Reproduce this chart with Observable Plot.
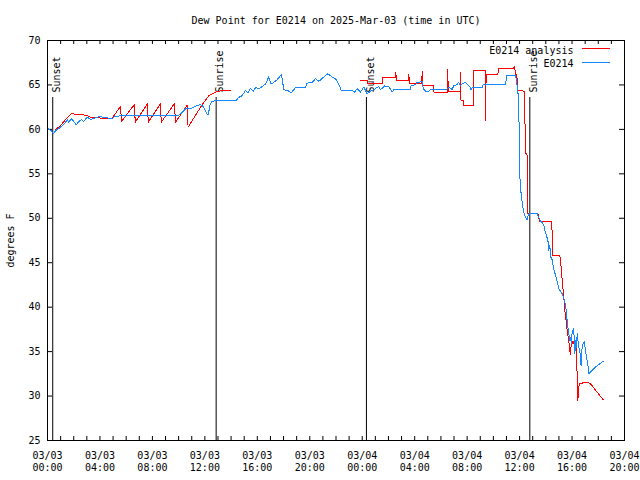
<!DOCTYPE html>
<html><head><meta charset="utf-8">
<script src="https://cdn.jsdelivr.net/npm/d3@7"></script>
<script src="https://cdn.jsdelivr.net/npm/@observablehq/plot@0.6"></script>
<style>body{margin:0;background:#fff} svg{display:block}</style>
</head><body><div id="chart"></div>
<script>
// ---- data (hours after 2025-03-03 00:00 UTC, degrees F) ----
const titleText = "Dew Point for E0214 on 2025-Mar-03 (time in UTC)";
const yLabel = "degrees F";
const seriesNames = ["E0214 analysis", "E0214"];

const blueHours = [0.00,0.25,0.45,0.65,0.86,1.12,1.37,1.50,1.62,1.83,2.00,2.19,2.39,2.59,2.77,3.03,3.28,3.66,4.04,4.29,4.55,4.93,5.19,9.99,10.27,10.52,10.77,11.03,11.42,11.67,11.92,12.12,12.25,12.39,12.51,12.68,14.34,14.59,14.85,15.10,15.28,15.48,15.69,15.86,16.11,16.37,16.62,16.87,17.06,17.26,17.52,17.84,18.02,18.32,18.58,18.91,19.67,19.80,20.18,20.44,20.69,21.07,21.37,21.71,21.96,22.21,22.40,23.23,23.41,23.62,23.87,24.12,24.38,24.63,24.88,25.14,25.26,25.39,25.70,26.03,26.28,26.41,27.68,27.72,28.06,28.19,28.57,28.65,28.82,29.08,29.21,30.43,30.60,30.86,30.98,31.19,31.36,31.49,31.62,31.87,32.25,32.30,32.38,33.15,33.22,34.92,35.04,35.69,35.76,35.94,35.99,36.07,36.14,36.24,36.32,36.45,36.56,36.62,36.75,37.34,37.39,37.59,37.72,37.85,37.97,38.10,38.16,38.23,38.30,38.41,38.48,38.56,38.66,38.74,38.87,38.99,39.12,39.25,39.33,39.43,39.53,39.58,39.68,39.75,39.83,39.88,39.96,40.01,40.09,40.13,40.21,40.28,40.34,40.39,40.51,40.59,40.69,40.77,40.85,40.95,41.02,41.10,41.20,41.28,41.66,42.04,42.37];
const blueValues = [60.1,59.9,59.5,59.9,60.1,60.4,60.8,61.1,60.8,61.2,60.9,60.5,60.9,61.1,60.9,61.4,61.1,61.3,61.5,61.3,61.3,61.2,61.5,61.6,61.9,62.3,62.3,62.4,62.7,62.8,62.5,61.8,61.6,62.7,63.1,63.2,63.2,63.6,63.8,64.4,64.1,64.6,64.3,64.7,64.6,64.8,65.1,65.9,65.1,65.3,65.6,66.2,64.45,64.4,64.1,64.7,64.7,65.2,65.3,65.7,65.4,65.9,66.25,65.9,65.7,65.1,64.4,64.4,64.2,64.6,64.2,64.75,64.0,64.3,64.45,64.75,64.8,64.45,64.9,64.8,64.2,64.5,64.5,64.9,65.05,65.3,65.35,64.6,64.3,64.3,64.5,64.5,64.75,64.5,64.9,65.0,65.3,64.9,65.1,65.3,64.7,64.4,64.7,64.7,65.0,65.1,66.1,66.1,65.5,63.3,55.4,53.5,52.4,51.3,50.7,50.1,49.8,50.2,50.5,50.5,50.3,49.7,49.5,49.2,48.4,47.8,47.5,46.4,46.9,45.4,45.4,44.7,43.9,43.7,42.8,42.1,41.8,41.5,41.2,40.75,40.0,39.1,37.75,37.0,36.25,36.6,35.9,37.4,37.0,37.6,34.75,36.25,35.5,37.0,35.5,35.1,33.4,35.5,35.9,36.1,35.1,34.4,33.6,32.5,33.1,33.55,33.9];

const redHours = [0.61,0.99,1.37,1.81,2.26,2.90,3.41,4.93,5.57,5.64,6.63,6.69,7.63,7.68,8.62,8.67,9.68,9.76,10.65,10.72,11.80,12.30,12.68,13.06,13.44,13.95,18.90,23.87,24.38,24.40,25.52,25.54,26.54,26.56,26.61,27.53,27.55,27.60,28.54,28.57,28.62,29.43,29.46,30.50,30.52,30.56,31.47,31.49,31.51,31.72,31.74,32.46,32.48,33.38,33.40,33.45,34.35,34.37,35.52,35.61,35.69,35.80,35.84,36.37,36.45,36.60,36.62,37.39,37.46,37.52,38.47,38.48,39.07,39.12,39.25,39.37,39.45,39.55,39.63,39.75,39.83,39.88,39.96,40.07,40.19,40.27,40.34,40.39,40.44,40.51,40.59,40.89,41.28,41.53,41.79,42.04,42.37];
const redValues = [60.0,60.4,61.1,61.75,61.7,61.6,61.3,61.25,62.6,60.9,62.8,60.8,62.9,60.8,62.9,60.8,62.9,60.8,62.7,60.25,62.8,63.8,64.1,64.3,64.4,64.4,NaN,65.5,65.5,65.2,65.2,65.8,65.8,66.4,65.5,65.5,66.2,65.2,65.2,66.5,64.9,64.9,64.2,64.2,66.7,64.3,64.3,66.4,63.3,63.3,62.7,62.7,66.6,66.6,61.0,66.2,66.2,66.8,66.8,67.1,66.3,65.9,64.4,64.3,57.4,57.0,50.5,50.5,50.1,49.6,49.6,45.8,45.8,45.25,43.0,41.1,39.6,38.5,37.4,36.25,35.0,34.7,36.25,35.9,36.25,35.1,35.5,32.1,29.5,31.0,31.4,31.5,31.5,31.2,30.65,30.2,29.6];

const eventLabels = ["Sunset", "Sunrise", "Sunset", "Sunrise"];
const eventHours = [0.40, 12.86, 24.32, 36.78];

const yTicks = [25, 30, 35, 40, 45, 50, 55, 60, 65, 70];
const xLabelHours = [0, 4, 8, 12, 16, 20, 24, 28, 32, 36, 40, 44];
const xTickHours = d3.range(0, 45, 1);

// ---- build tables ----
const T0 = Date.UTC(2025, 2, 3);
const toDate = h => new Date(T0 + h * 3600e3);
const blue = blueHours.map((h, i) => ({t: toDate(h), v: blueValues[i]}));
const red = redHours.map((h, i) => ({t: toDate(h), v: redValues[i]}));
const events = eventHours.map((h, i) => ({t: toDate(h), label: eventLabels[i]}));
const xTicks = xTickHours.map(toDate);
const xLabels = xLabelHours.map(toDate);
const fmt = d3.utcFormat("%m/%d\n%H:%M");

const RED = "#ff0000", BLUE = "#1588ff";

const chart = Plot.plot({
  width: 640, height: 480,
  marginLeft: 47, marginRight: 16, marginTop: 40, marginBottom: 40,
  style: {fontFamily: "'DejaVu Sans Mono', monospace", fontSize: "10px", background: "white", color: "black"},
  x: {type: "utc", domain: [toDate(0), toDate(44)]},
  y: {domain: [25, 70]},
  marks: [
    Plot.text([titleText], {frameAnchor: "top", dy: -24, fontSize: 10}),
    Plot.text([yLabel], {frameAnchor: "left", textAnchor: "middle", dx: -37, rotate: -90, fontSize: 10}),
    Plot.axisY(yTicks, {tickSize: 0, tickPadding: 7, label: null, fontSize: 10}),
    Plot.axisX(xLabels, {tickSize: 0, tickPadding: 10, label: null, tickFormat: fmt, lineHeight: 1.2, fontSize: 10}),
    Plot.tickX(xTicks, {insetTop: 396, stroke: "black"}),
    Plot.tickX(xTicks, {insetBottom: 396, stroke: "black"}),
    Plot.tickY(yTicks, {insetRight: 572, stroke: "black"}),
    Plot.tickY(yTicks, {insetLeft: 572, stroke: "black"}),
    Plot.ruleX(events, {x: "t", insetTop: 57, stroke: "black"}),
    Plot.text(events, {x: "t", text: "label", frameAnchor: "top", dy: 52, rotate: -90, textAnchor: "start", fontSize: 10}),
    Plot.line(red, {x: "t", y: "v", stroke: RED, strokeWidth: 1, shapeRendering: "crispEdges"}),
    Plot.line(blue, {x: "t", y: "v", stroke: BLUE, strokeWidth: 1, shapeRendering: "crispEdges"}),
    Plot.text([seriesNames[0]], {frameAnchor: "top-right", textAnchor: "end", dx: -51, dy: 6, fontSize: 10}),
    Plot.text([seriesNames[1]], {frameAnchor: "top-right", textAnchor: "end", dx: -51, dy: 19, fontSize: 10}),
    Plot.ruleY([0], {y: null, insetLeft: 535, insetRight: 14, dy: -192, stroke: RED}),
    Plot.ruleY([0], {y: null, insetLeft: 535, insetRight: 14, dy: -178, stroke: BLUE}),
    Plot.frame({stroke: "black"})
  ]
});
document.getElementById("chart").append(chart);
</script>
</body></html>
